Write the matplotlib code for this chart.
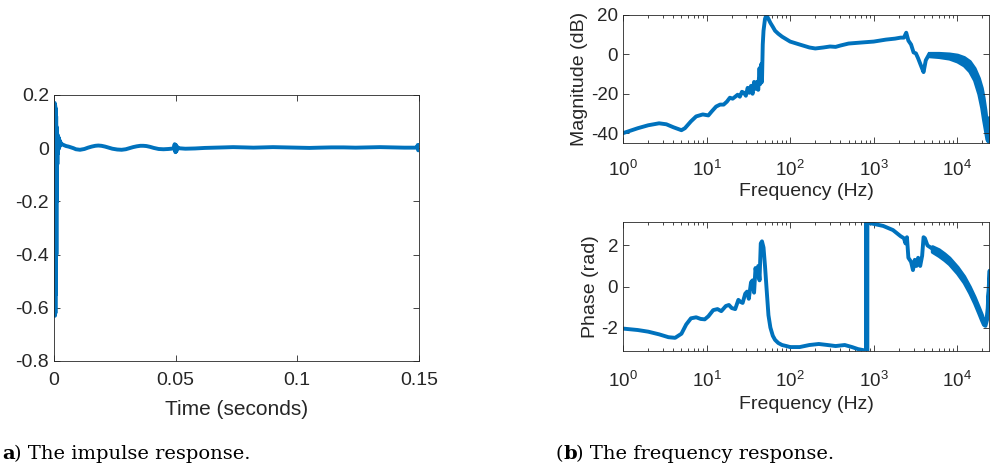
import matplotlib
matplotlib.use("Agg")
import matplotlib.pyplot as plt
import numpy as np

plt.rcParams['font.family'] = ['Liberation Sans', 'DejaVu Sans']

blue = '#0072BD'
dark = '#262626'

# impulse response (time in s, amplitude)
imp_t = [0.0, 0.0002, 0.0003, 0.0004, 0.0005, 0.0006, 0.0007, 0.0008, 0.0009,
         0.0010, 0.0011, 0.0012, 0.0013, 0.0014, 0.0015, 0.0016, 0.0017,
         0.0018, 0.0019, 0.0020, 0.0021, 0.0022, 0.0023, 0.0024, 0.0027,
         0.0030, 0.0035, 0.0042, 0.005, 0.006, 0.007, 0.008, 0.009, 0.0107, 0.0125,
         0.014, 0.0155, 0.017, 0.0182, 0.0195, 0.021, 0.0225, 0.024, 0.026, 0.0278,
         0.0295, 0.031, 0.0325, 0.034, 0.0355, 0.0367, 0.038, 0.0395, 0.041, 0.043,
         0.045, 0.047, 0.0492, 0.0496, 0.0499, 0.0501, 0.0503, 0.0506, 0.051, 0.054,
         0.058, 0.062, 0.066, 0.070, 0.0736, 0.078, 0.082, 0.086, 0.090, 0.095,
         0.100, 0.105, 0.109, 0.114, 0.119, 0.124, 0.129, 0.134, 0.139, 0.144,
         0.1485, 0.1492, 0.1495, 0.1497, 0.1499, 0.15]
imp_h = [0.0, 0.0, 0.17, -0.63, 0.16, -0.62, 0.15, -0.55, 0.12,
         -0.4, 0.08, -0.2, 0.05, -0.06, 0.05, -0.02, 0.045,
         -0.005, 0.04, 0.0, 0.035, 0.005, 0.03, 0.008, 0.022,
         0.016, 0.014, 0.011, 0.008, 0.006, 0.003, 0.0, -0.004, -0.006, -0.003,
         0.002, 0.006, 0.009, 0.010, 0.009, 0.006, 0.002, -0.002, -0.005, -0.006,
         -0.004, 0.0, 0.004, 0.007, 0.009, 0.009, 0.008, 0.005, 0.001, -0.003,
         -0.004, -0.003, -0.001, 0.015, -0.015, 0.012, -0.012, 0.006, 0.0, -0.002,
         -0.001, 0.001, 0.002, 0.003, 0.004, 0.003, 0.002, 0.003, 0.004, 0.003,
         0.002, 0.001, 0.002, 0.003, 0.003, 0.002, 0.003, 0.004, 0.003, 0.002,
         0.002, 0.003, 0.012, -0.008, 0.010, 0.003]

# magnitude response (Hz, dB)
mag_f = [1, 1.5, 2, 2.7, 3.3, 4, 5, 5.5, 6.5, 7.5, 9, 10.5, 11.5, 13, 14.5, 16, 17.5,
         19, 20.5, 22, 23.5, 25, 26.5, 28, 29.5, 31, 32.5, 34, 35.5, 37, 38.5,
         40, 41.5, 43, 44, 45, 46, 47, 48, 50, 52, 55, 58, 62, 66, 72, 80, 100,
         130, 170, 200, 250, 300, 350, 400, 500, 700, 1000, 1400, 1800, 2100,
         2300, 2450, 2600, 2800, 3000, 3200, 3400, 3700, 3950, 4200, 4600]
mag_db = [-40, -37.5, -36, -35, -35.5, -37, -38.5, -37.5, -34, -31.5, -30.5, -31, -29, -26.5,
          -25.5, -25.5, -24, -22, -22.5, -21.5, -20.5, -21.5, -19, -19.5, -21, -17,
          -19.5, -16, -20, -14, -17.5, -14, -18, -7, -15, -5, -14, 5, 12, 18, 20,
          18, 16, 14, 12, 10.5, 9, 6.5, 5, 3.5, 3, 3.5, 4, 3.8, 4.5, 5.5, 6, 6.5, 7.5,
          8, 8.5, 8.5, 11, 7, 5, 1, 0.5, -2, -6, -9, -3, 0]
# thick (finely rippled) tail: lower / upper envelope
mag_band_f = [4600, 6000, 8000, 10000, 12000, 14000, 16000, 18000, 19500, 20500,
              21500, 22500, 23200, 24000]
mag_band_lo = [-0.8, -1.2, -2.0, -3.5, -5.5, -8.5, -13, -20, -27, -33, -38, -43, -44, -38]
mag_band_hi = [0.6, 0.6, 0.3, -0.3, -1.5, -3.5, -7, -12, -17, -22, -28, -35, -38, -32]

# phase response (Hz, rad)
ph_f = [1, 1.5, 2, 2.7, 3.5, 4.2, 5, 5.7, 6.5, 7.5, 8.5, 9.5, 10.5, 12, 13.5, 15,
        17, 18.5, 20, 22, 24, 25.5, 27, 29, 30.5, 32, 34, 35.5, 37, 38.5, 40, 41.5,
        43, 44.5, 46, 48, 50, 52, 55, 58, 62, 66, 72, 80, 90, 100, 130, 170, 220,
        280, 350, 450, 550, 650, 750, 812, 815, 818, 821, 824, 827, 830, 833, 836,
        840, 850, 1000, 1300, 1700, 2100, 2300, 2400, 2500, 2600, 2800, 2950, 3100,
        3250, 3400, 3600, 3800, 3950, 4100, 4400, 5000]
ph_rad = [-2.05, -2.12, -2.2, -2.33, -2.47, -2.5, -2.3, -1.85, -1.55, -1.5, -1.58, -1.6, -1.45,
          -1.15, -1.1, -1.2, -0.95, -0.9, -1.05, -1.1, -0.65, -0.75, -0.8, -0.35, -0.25,
          -0.6, 0.2, 0.3, -0.3, 0.9, 0.5, 1.0, 0.3, 2.1, 2.2, 1.9, 1.0, 0.0, -1.4, -2.0,
          -2.4, -2.6, -2.75, -2.85, -2.9, -2.95, -2.95, -2.85, -2.8, -2.85, -2.9, -2.85,
          -2.95, -3.05, -3.1, -3.14, 3.14, -3.14, 3.14, -3.14, 3.14, -3.14, 3.14, -3.14,
          3.14, 3.1, 3.05, 2.95, 2.75, 2.45, 2.35, 2.1, 2.4, 1.4, 1.2, 0.8, 1.3, 1.0,
          1.4, 1.0, 1.5, 2.4, 2.35, 2.0, 1.85]
ph_band_f = [5000, 6000, 7000, 8000, 10000, 12000, 14000, 16000, 18000, 19500,
             20500, 21500, 22500, 23200, 24000]
ph_band_lo = [1.7, 1.5, 1.3, 1.1, 0.65, 0.2, -0.3, -0.8, -1.3, -1.65, -1.85, -1.9, -1.6, -0.6, 0.4]
ph_band_hi = [1.95, 1.8, 1.6, 1.4, 0.95, 0.5, 0.0, -0.5, -1.0, -1.35, -1.6, -1.75, -1.4, -0.3, 0.8]

fig = plt.figure(figsize=(9.94, 4.67), dpi=100)


def style(ax, size, xpad):
    ax.tick_params(direction='in', which='both', top=True, right=True,
                   colors=dark, labelsize=size, width=0.6)
    ax.tick_params(which='major', length=4)
    ax.tick_params(which='minor', length=2.5)
    ax.tick_params(axis='x', pad=xpad)
    for s in ax.spines.values():
        s.set_color(dark)
        s.set_linewidth(0.6)


# (a) impulse response
ax1 = fig.add_axes([0.0543, 0.2270, 0.3672, 0.5696])
ax1.plot(imp_t, imp_h, color=blue, lw=2.8)
ax1.set_xlim(0, 0.15)
ax1.set_ylim(-0.8, 0.2)
ax1.set_xticks([0, 0.05, 0.1, 0.15])
ax1.set_xticklabels(['0', '0.05', '0.1', '0.15'])
ax1.set_yticks([-0.8, -0.6, -0.4, -0.2, 0, 0.2])
ax1.set_yticklabels(['-0.8', '-0.6', '-0.4', '-0.2', '0', '0.2'])
ax1.set_xlabel('Time (seconds)', fontsize=15, color=dark, labelpad=8)
style(ax1, 14, 8)

# (b) magnitude
ax2 = fig.add_axes([0.6268, 0.6938, 0.3682, 0.2741])
ax2.plot(mag_f, mag_db, color=blue, lw=2.8)
ax2.fill_between(mag_band_f, mag_band_lo, mag_band_hi, color=blue, lw=2.6, edgecolor=blue)
ax2.set_xscale('log')
ax2.set_xlim(1, 24000)
ax2.set_ylim(-45, 20)
ax2.set_yticks([-40, -20, 0, 20])
ax2.set_yticklabels(['-40', '-20', '0', '20'])
ax2.set_xticks([1, 10, 100, 1000, 10000])
ax2.set_xlabel('Frequency (Hz)', fontsize=14, color=dark, labelpad=2)
ax2.set_ylabel('Magnitude (dB)', fontsize=14, color=dark, labelpad=2)
style(ax2, 13.5, 12)

# (b) phase
ax3 = fig.add_axes([0.6268, 0.2484, 0.3682, 0.2762])
ax3.plot(ph_f, ph_rad, color=blue, lw=2.8)
ax3.fill_between(ph_band_f, ph_band_lo, ph_band_hi, color=blue, lw=2.6, edgecolor=blue)
ax3.set_xscale('log')
ax3.set_xlim(1, 24000)
ax3.set_ylim(-np.pi, np.pi)
ax3.set_yticks([-2, 0, 2])
ax3.set_yticklabels(['-2', '0', '2'])
ax3.set_xticks([1, 10, 100, 1000, 10000])
ax3.set_xlabel('Frequency (Hz)', fontsize=14, color=dark, labelpad=4)
ax3.set_ylabel('Phase (rad)', fontsize=14, color=dark, labelpad=2)
style(ax3, 13.5, 14)

serif = ['DejaVu Serif']
cap = dict(fontsize=14, family=serif, va='baseline')
ya = 0.017
fig.text(0.002, ya, 'a', fontweight='bold', **cap)
fig.text(0.0145, ya, ') The impulse response.', **cap)
fig.text(0.559, ya, '(', **cap)
fig.text(0.5665, ya, 'b', fontweight='bold', **cap)
fig.text(0.5795, ya, ') The frequency response.', **cap)

plt.savefig('out.png', dpi=100)
